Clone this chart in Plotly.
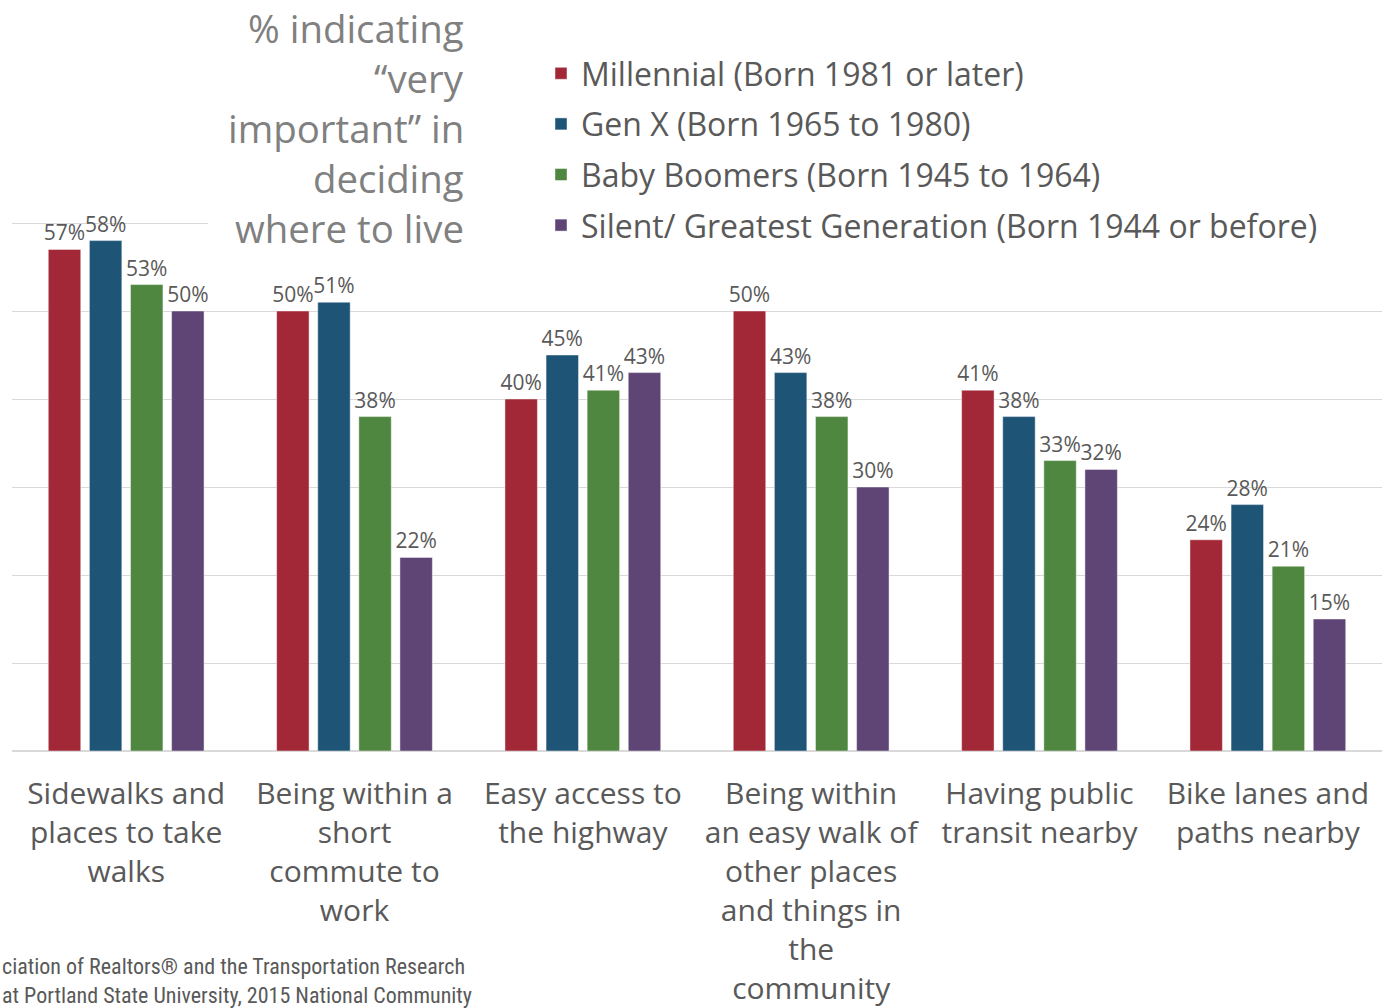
import plotly.graph_objects as go

# Survey categories (tick labels, wrapped as displayed)
categories = [
    "Sidewalks and<br>places to take<br>walks",
    "Being within a<br>short<br>commute to<br>work",
    "Easy access to<br>the highway",
    "Being within<br>an easy walk of<br>other places<br>and things in<br>the<br>community",
    "Having public<br>transit nearby",
    "Bike lanes and<br>paths nearby",
]

# Percent indicating "very important", by generation
millennial = [57, 50, 40, 50, 41, 24]
gen_x = [58, 51, 45, 43, 38, 28]
boomers = [53, 38, 41, 38, 33, 21]
silent = [50, 22, 43, 30, 32, 15]

series_names = [
    "Millennial (Born 1981 or later)",
    "Gen X (Born 1965 to 1980)",
    "Baby Boomers (Born 1945 to 1964)",
    "Silent/ Greatest Generation (Born 1944 or before)",
]
series_values = [millennial, gen_x, boomers, silent]
series_colors = ["#A22838", "#1E5577", "#4F8740", "#5E4576"]

title_lines = ["% indicating", "\u201cvery", "important\u201d in", "deciding", "where to live"]
source_lines = [
    "ciation of Realtors\u00ae and the Transportation Research",
    "at Portland State University, 2015 National Community",
]

FONT = "Open Sans, Lato, sans-serif"
TEXT_GRAY = "#595959"

W, H = 1382, 1008
M_L, M_R, M_T, M_B = 12, 0, 135, 257
Y_MAX = 70


def px_x(p):
    return (p - M_L) / (W - M_L - M_R)


def px_y(p):
    return (H - M_B - p) / (H - M_T - M_B)


fig = go.Figure()
for i, (name, vals, col) in enumerate(zip(series_names, series_values, series_colors)):
    fig.add_trace(go.Bar(
        name=name,
        x=categories,
        y=vals,
        marker=dict(color=col, line=dict(color="rgba(255,255,255,0.45)", width=1)),
        text=[f"{v}%" for v in vals],
        textposition="outside",
        constraintext="none",
        cliponaxis=False,
        textfont=dict(family=FONT, size=21, color=TEXT_GRAY),
        legendgroup=f"g{i}",
    ))

# White panel behind the title and legend, hiding the upper gridlines there
fig.add_shape(type="rect", xref="paper", yref="paper",
              x0=px_x(208), x1=px_x(W + 5), y0=px_y(250), y1=px_y(-5),
              fillcolor="white", line=dict(width=0), layer="above")

# Right-aligned chart title, one line per annotation for tight leading
for k, line in enumerate(title_lines):
    fig.add_annotation(
        xref="paper", yref="paper", x=px_x(466), y=px_y(28 + 50 * k),
        xanchor="right", yanchor="middle", align="right", showarrow=False,
        text=line,
        font=dict(family=FONT, size=38.4, color="#808080"),
    )

# Source note along the bottom-left
for k, line in enumerate(source_lines):
    fig.add_annotation(
        xref="paper", yref="paper", x=px_x(0), y=px_y(966 + 29 * k),
        xanchor="left", yanchor="middle", align="left", showarrow=False,
        text=line,
        font=dict(family="Liberation Sans Narrow, Roboto Condensed, Roboto, sans-serif",
                  size=22, color=TEXT_GRAY),
    )

fig.update_layout(
    width=W, height=H,
    margin=dict(l=M_L, r=M_R, t=M_T, b=M_B, pad=0, autoexpand=False),
    paper_bgcolor="white", plot_bgcolor="white",
    barmode="group", bargap=0.28, bargroupgap=0.21,
    showlegend=True,
    legend=dict(
        x=px_x(541), y=px_y(46), xanchor="left", yanchor="top",
        bgcolor="rgba(0,0,0,0)",
        font=dict(family=FONT, size=32, color=TEXT_GRAY),
        tracegroupgap=6, itemclick=False,
    ),
    font=dict(family=FONT, color=TEXT_GRAY),
)
fig.update_xaxes(
    showgrid=False, showline=False, ticks="",
    tickfont=dict(family=FONT, size=30, color=TEXT_GRAY),
    ticklabelstandoff=22, automargin=False,
)
fig.update_yaxes(
    range=[0, Y_MAX], dtick=10, showticklabels=False,
    showgrid=True, gridcolor="#D9D9D9", gridwidth=1,
    zeroline=True, zerolinecolor="#D9D9D9", zerolinewidth=1.5,
    showline=False, ticks="", automargin=False,
)

fig.write_html("out.html")
